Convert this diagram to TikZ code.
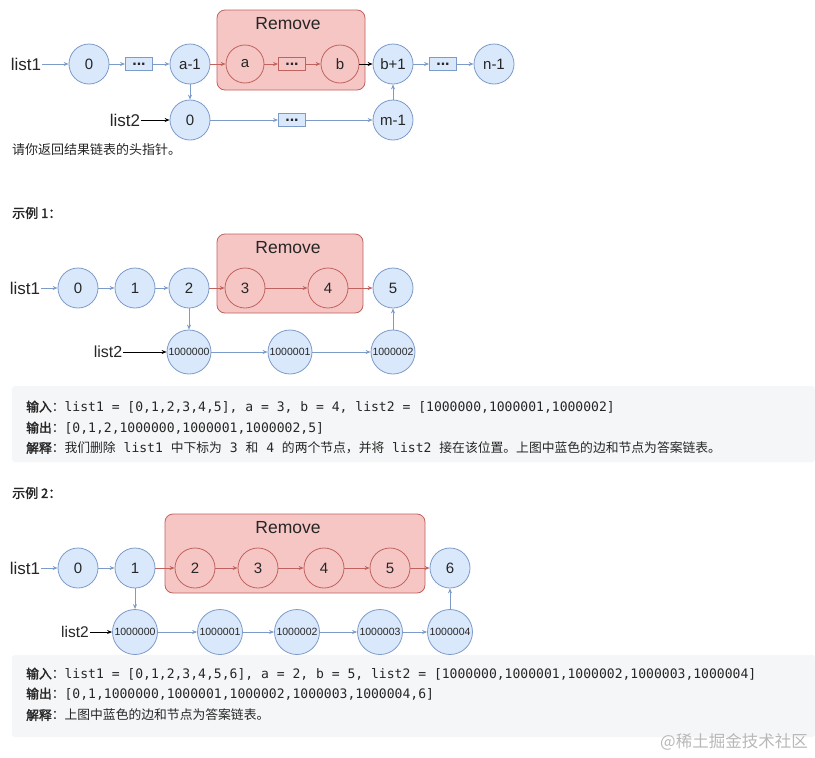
\documentclass[tikz,border=0pt]{standalone}
\usepackage{fontspec}
\setmainfont{Liberation Sans}
\newfontfamily\cjk{Noto Sans CJK SC}
\newfontfamily\cjkb[FakeBold=2]{Noto Sans CJK SC}
\newfontfamily\monof[Scale=1.02]{DejaVu Sans Mono}
\newcommand\mm[1]{{\monof #1}}
\newcommand\lab[1]{{\cjkb #1}{\cjk ：}}
\usetikzlibrary{arrows.meta}
\definecolor{bfill}{HTML}{DAE8FC}
\definecolor{bline}{HTML}{7D9BC9}
\definecolor{rfill}{HTML}{F6C6C5}
\definecolor{rline}{HTML}{C0625E}
\definecolor{boxgray}{HTML}{F5F6F7}
\definecolor{txt}{HTML}{262626}
\begin{document}
\begin{tikzpicture}[x=1pt,y=-1pt,
  bn/.style={circle,draw=bline,fill=bfill,line width=0.8pt,minimum size=40pt,inner sep=0pt,text=txt,font=\fontsize{15}{15}\selectfont},
  rn/.style={circle,draw=rline,fill=rfill,line width=0.8pt,minimum size=40pt,inner sep=0pt,text=txt,font=\fontsize{15}{15}\selectfont},
  bigbn/.style={bn,minimum size=44pt,font=\fontsize{10.5}{10.5}\selectfont},
  bdots/.style={rectangle,draw=bline,fill=bfill,line width=0.8pt,minimum width=27pt,minimum height=13pt,inner sep=0pt,text=txt,font=\bfseries\fontsize{16}{16}\selectfont},
  rdots/.style={bdots,draw=rline,fill=rfill},
  ba/.style={-{Stealth[length=5pt,width=4pt]},draw=bline,line width=0.8pt},
  ra/.style={-{Stealth[length=5pt,width=4pt]},draw=rline,line width=0.8pt},
  ka/.style={-{Stealth[length=5pt,width=4pt]},draw=black,line width=0.8pt},
  lbl/.style={inner sep=1pt,text=txt,font=\fontsize{17}{17}\selectfont},
  rembox/.style={draw=rline,fill=rfill,rounded corners=8pt,line width=0.8pt},
  remtxt/.style={text=txt,font=\fontsize{17.5}{17.5}\selectfont},
  para/.style={anchor=west,inner sep=0pt,text=txt,font=\fontsize{13}{13}\selectfont},
  codeln/.style={anchor=west,inner sep=0pt,text=txt,font=\fontsize{12.8}{13}\selectfont},
  graybox/.style={fill=boxgray,rounded corners=3pt},
]
\useasboundingbox (0,0) rectangle (815,758);
\fill[white] (0,0) rectangle (815,758);

% ---------- top diagram ----------
\node[rembox,minimum width=148pt,minimum height=80pt] (rem0) at (291,50) {};
\node[remtxt] (remt0) at (288,24) {Remove};
\node[lbl] (l1) at (26,64) {list1};
\node[bn] (t0) at (89,64) {0};
\node[bdots] (td1) at (139,64) {\raisebox{-1.5pt}{...}};
\node[bn] (ta1) at (190,64) {a-1};
\node[rn,minimum size=38pt] (ta) at (245,64) {a};
\node[rdots] (td2) at (292,64) {\raisebox{-1.5pt}{...}};
\node[rn,minimum size=38pt] (tb) at (340,64) {b};
\node[bn] (tb1) at (393,64) {b+1};
\node[bdots] (td3) at (443,64) {\raisebox{-1.5pt}{...}};
\node[bn] (tn1) at (494,64) {n-1};
\node[lbl] (l2) at (125,120) {list2};
\node[bn] (u0) at (190,120) {0};
\node[bdots] (ud) at (292,120) {\raisebox{-1.5pt}{...}};
\node[bn] (um1) at (393,120) {m-1};
\draw[ba] (l1) -- (t0);
\draw[ba] (t0) -- (td1);
\draw[ba] (td1) -- (ta1);
\draw[ra] (ta1) -- (ta);
\draw[ra] (ta) -- (td2);
\draw[ra] (td2) -- (tb);
\draw[ka] (tb) -- (tb1);
\draw[ba] (tb1) -- (td3);
\draw[ba] (td3) -- (tn1);
\draw[ba] (ta1) -- (u0);
\draw[ka] (l2) -- (u0);
\draw[ba] (u0) -- (ud);
\draw[ba] (ud) -- (um1);
\draw[ba] (um1) -- (tb1);

\node[para] (p1) at (12,150) {\cjk 请你返回结果链表的头指针。};
\node[para] (h1) at (12,213) {\cjkb 示例 1：};

% ---------- example 1 ----------
\node[rembox,minimum width=146pt,minimum height=79pt] (rem1) at (290,273.5) {};
\node[remtxt] (remt1) at (288,248) {Remove};
\node[lbl] (e1l1) at (25,288) {list1};
\node[bn] (e1n0) at (78,288) {0};
\node[bn] (e1n1) at (135,288) {1};
\node[bn] (e1n2) at (189,288) {2};
\node[rn] (e1n3) at (245,288) {3};
\node[rn] (e1n4) at (328,288) {4};
\node[bn] (e1n5) at (393,288) {5};
\node[lbl,font=\fontsize{16}{16}\selectfont] (e1l2) at (108,352) {list2};
\node[bigbn] (e1m0) at (189,352) {1000000};
\node[bigbn] (e1m1) at (290,352) {1000001};
\node[bigbn] (e1m2) at (393,352) {1000002};
\draw[ba] (e1l1) -- (e1n0);
\draw[ba] (e1n0) -- (e1n1);
\draw[ba] (e1n1) -- (e1n2);
\draw[ra] (e1n2) -- (e1n3);
\draw[ra] (e1n3) -- (e1n4);
\draw[ra] (e1n4) -- (e1n5);
\draw[ba] (e1n2) -- (e1m0);
\draw[ka] (e1l2) -- (e1m0);
\draw[ba] (e1m0) -- (e1m1);
\draw[ba] (e1m1) -- (e1m2);
\draw[ba] (e1m2) -- (e1n5);

\fill[graybox] (12,386) rectangle (815,462);
\node[codeln] (c11) at (26,407) {\lab{输入}\mm{list1 = [0,1,2,3,4,5], a = 3, b = 4, list2 = [1000000,1000001,1000002]}};
\node[codeln] (c12) at (26,428) {\lab{输出}\mm{[0,1,2,1000000,1000001,1000002,5]}};
\node[codeln] (c13) at (26,448) {\lab{解释}{\cjk 我们删除}\mm{ list1 }{\cjk 中下标为}\mm{ 3 }{\cjk 和}\mm{ 4 }{\cjk 的两个节点，并将}\mm{ list2 }{\cjk 接在该位置。上图中蓝色的边和节点为答案链表。}};

\node[para] (h2) at (12,493) {\cjkb 示例 2：};

% ---------- example 2 ----------
\node[rembox,minimum width=260pt,minimum height=79pt] (rem2) at (295,553.5) {};
\node[remtxt] (remt2) at (288,528) {Remove};
\node[lbl] (e2l1) at (25,568) {list1};
\node[bn] (e2n0) at (78,568) {0};
\node[bn] (e2n1) at (135,568) {1};
\node[rn] (e2n2) at (195,568) {2};
\node[rn] (e2n3) at (258,568) {3};
\node[rn] (e2n4) at (324,568) {4};
\node[rn] (e2n5) at (390,568) {5};
\node[bn] (e2n6) at (450,568) {6};
\node[lbl,font=\fontsize{15.5}{15.5}\selectfont] (e2l2) at (75,632) {list2};
\node[bigbn,minimum size=45pt] (e2m0) at (135,632) {1000000};
\node[bigbn,minimum size=45pt] (e2m1) at (220,632) {1000001};
\node[bigbn,minimum size=45pt] (e2m2) at (297,632) {1000002};
\node[bigbn,minimum size=45pt] (e2m3) at (380,632) {1000003};
\node[bigbn,minimum size=45pt] (e2m4) at (450,632) {1000004};
\draw[ba] (e2l1) -- (e2n0);
\draw[ba] (e2n0) -- (e2n1);
\draw[ra] (e2n1) -- (e2n2);
\draw[ra] (e2n2) -- (e2n3);
\draw[ra] (e2n3) -- (e2n4);
\draw[ra] (e2n4) -- (e2n5);
\draw[ra] (e2n5) -- (e2n6);
\draw[ba] (e2n1) -- (e2m0);
\draw[ka] (e2l2) -- (e2m0);
\draw[ba] (e2m0) -- (e2m1);
\draw[ba] (e2m1) -- (e2m2);
\draw[ba] (e2m2) -- (e2m3);
\draw[ba] (e2m3) -- (e2m4);
\draw[ba] (e2m4) -- (e2n6);

\fill[graybox] (12,655) rectangle (815,737);
\node[codeln] (c21) at (26,674) {\lab{输入}\mm{list1 = [0,1,2,3,4,5,6], a = 2, b = 5, list2 = [1000000,1000001,1000002,1000003,1000004]}};
\node[codeln] (c22) at (26,694) {\lab{输出}\mm{[0,1,1000000,1000001,1000002,1000003,1000004,6]}};
\node[codeln] (c23) at (26,715) {\lab{解释}{\cjk 上图中蓝色的边和节点为答案链表。}};

\node[anchor=east,inner sep=0pt,text=black!28,font=\fontsize{16.5}{16.5}\selectfont] (wm) at (808,742) {\cjk @稀土掘金技术社区};
\end{tikzpicture}
\end{document}
